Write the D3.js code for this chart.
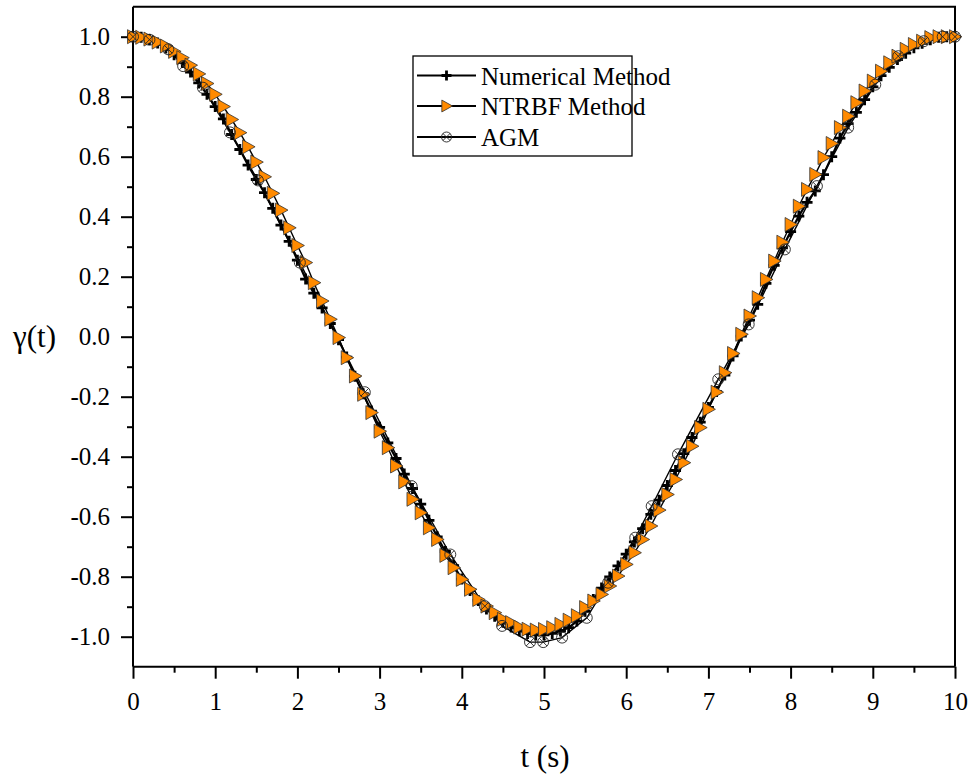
<!DOCTYPE html>
<html>
<head>
<meta charset="utf-8">
<script src="https://cdn.jsdelivr.net/npm/d3@7"></script>
<style>
  html, body { margin: 0; padding: 0; background: #ffffff; }
  svg { display: block; }
  svg text { font-family: "Liberation Serif", "Times New Roman", "DejaVu Serif", serif !important; }
</style>
</head>
<body>
<svg id="chart" width="974" height="776"></svg>
<script>
// ---------- data ----------
const timeValues = [
  0.0, 0.1, 0.2, 0.3, 0.4, 0.5, 0.6, 0.7, 0.8, 0.9,
  1.0, 1.1, 1.2, 1.3, 1.4, 1.5, 1.6, 1.7, 1.8, 1.9,
  2.0, 2.1, 2.2, 2.3, 2.4, 2.5, 2.6, 2.7, 2.8, 2.9,
  3.0, 3.1, 3.2, 3.3, 3.4, 3.5, 3.6, 3.7, 3.8, 3.9,
  4.0, 4.1, 4.2, 4.3, 4.4, 4.5, 4.6, 4.7, 4.8, 4.9,
  5.0, 5.1, 5.2, 5.3, 5.4, 5.5, 5.6, 5.7, 5.8, 5.9,
  6.0, 6.1, 6.2, 6.3, 6.4, 6.5, 6.6, 6.7, 6.8, 6.9,
  7.0, 7.1, 7.2, 7.3, 7.4, 7.5, 7.6, 7.7, 7.8, 7.9,
  8.0, 8.1, 8.2, 8.3, 8.4, 8.5, 8.6, 8.7, 8.8, 8.9,
  9.0, 9.1, 9.2, 9.3, 9.4, 9.5, 9.6, 9.7, 9.8, 9.9, 10.0
];

const numericalValues = [
  1.000, 0.998, 0.991, 0.979, 0.962, 0.940, 0.914, 0.882, 0.846, 0.808,
  0.767, 0.726, 0.674, 0.624, 0.572, 0.524, 0.480, 0.428, 0.372, 0.318,
  0.255, 0.192, 0.145, 0.096, 0.044, -0.010, -0.068, -0.132, -0.190, -0.248,
  -0.302, -0.354, -0.406, -0.458, -0.506, -0.558, -0.612, -0.667, -0.716, -0.763,
  -0.808, -0.846, -0.879, -0.908, -0.932, -0.952, -0.968, -0.980, -0.989, -0.994,
  -0.994, -0.989, -0.981, -0.970, -0.948, -0.915, -0.876, -0.838, -0.801, -0.764,
  -0.725, -0.684, -0.640, -0.592, -0.545, -0.496, -0.446, -0.390, -0.336, -0.285,
  -0.236, -0.183, -0.128, -0.064, 0.002, 0.055, 0.108, 0.178, 0.238, 0.296,
  0.350, 0.402, 0.448, 0.486, 0.540, 0.600, 0.662, 0.710, 0.748, 0.790,
  0.833, 0.870, 0.898, 0.924, 0.945, 0.963, 0.978, 0.990, 0.998, 1.000, 1.000
];

const ntrbfValues = [
  1.000, 0.998, 0.992, 0.982, 0.969, 0.951, 0.930, 0.905, 0.876, 0.844,
  0.808, 0.767, 0.724, 0.680, 0.633, 0.582, 0.533, 0.478, 0.422, 0.363,
  0.304, 0.247, 0.180, 0.119, 0.058, -0.003, -0.070, -0.131, -0.192, -0.253,
  -0.315, -0.370, -0.431, -0.484, -0.542, -0.587, -0.637, -0.676, -0.729, -0.770,
  -0.809, -0.842, -0.876, -0.898, -0.920, -0.942, -0.953, -0.968, -0.975, -0.978,
  -0.976, -0.970, -0.959, -0.945, -0.930, -0.903, -0.881, -0.859, -0.831, -0.798,
  -0.759, -0.720, -0.676, -0.631, -0.578, -0.526, -0.476, -0.420, -0.365, -0.303,
  -0.242, -0.185, -0.120, -0.056, 0.008, 0.069, 0.130, 0.191, 0.252, 0.315,
  0.374, 0.435, 0.491, 0.541, 0.597, 0.644, 0.697, 0.735, 0.780, 0.819,
  0.852, 0.885, 0.913, 0.935, 0.958, 0.974, 0.985, 0.997, 1.000, 1.000, 1.000
];

const agmTimes = [
  0.00, 0.20, 0.43, 0.61, 0.85, 1.18, 1.52, 2.03, 2.82, 3.39,
  3.86, 4.28, 4.49, 4.83, 4.99, 5.22, 5.52, 5.78, 6.11, 6.31,
  6.63, 7.12, 7.49, 7.93, 8.32, 8.70, 9.03, 9.31, 9.62, 9.85, 10.00
];
const agmValues = [
  1.000, 0.990, 0.958, 0.902, 0.830, 0.681, 0.521, 0.247, -0.185, -0.498,
  -0.726, -0.898, -0.964, -1.018, -1.018, -1.003, -0.937, -0.820, -0.670, -0.565,
  -0.392, -0.142, 0.041, 0.291, 0.502, 0.697, 0.840, 0.935, 0.985, 1.000, 1.000
];

const seriesNames = ["Numerical Method", "NTRBF Method", "AGM"];
const xTickValues = [0, 1, 2, 3, 4, 5, 6, 7, 8, 9, 10];
const xMinorTicks = [0.5, 1.5, 2.5, 3.5, 4.5, 5.5, 6.5, 7.5, 8.5, 9.5];
const yTickValues = [-1.0, -0.8, -0.6, -0.4, -0.2, 0.0, 0.2, 0.4, 0.6, 0.8, 1.0];
const yMinorTicks = [-0.9, -0.7, -0.5, -0.3, -0.1, 0.1, 0.3, 0.5, 0.7, 0.9];
const xTitle = "t (s)";
const yTitle = "γ(t)";

// ---------- layout ----------
(function () {
const svg = d3.select("#chart");
const FONT = "Liberation Serif, Times New Roman, serif";
const pL = 133, pR = 955, pT = 6.7, pB = 666.7;
const orange = "#FF8A00";

svg.append("rect").attr("width", 974).attr("height", 776).attr("fill", "#fff");

const x = d3.scaleLinear().domain([0, 10]).range([pL, pR]);
const y = d3.scaleLinear().domain([-1.1, 1.1]).range([pB, pT]);

// frame (top & right)
svg.append("path")
  .attr("d", `M${pL},${pT}H${pR}V${pB}`)
  .attr("fill", "none").attr("stroke", "#000").attr("stroke-width", 2);

// x axis
const gx = svg.append("g").attr("transform", `translate(0,${pB})`);
gx.call(d3.axisBottom(x).tickValues(xTickValues).tickSize(12).tickSizeOuter(0)
  .tickPadding(14).tickFormat(d3.format("d")));
const gxm = svg.append("g").attr("transform", `translate(0,${pB})`);
gxm.call(d3.axisBottom(x).tickValues(xMinorTicks).tickSize(6).tickSizeOuter(0).tickFormat(""));
gxm.select(".domain").remove();

// y axis
const gy = svg.append("g").attr("transform", `translate(${pL},0)`);
gy.call(d3.axisLeft(y).tickValues(yTickValues).tickSize(12).tickSizeOuter(0)
  .tickPadding(11).tickFormat(d => d.toFixed(1)));
const gym = svg.append("g").attr("transform", `translate(${pL},0)`);
gym.call(d3.axisLeft(y).tickValues(yMinorTicks).tickSize(6).tickSizeOuter(0).tickFormat(""));
gym.select(".domain").remove();

[gx, gxm, gy, gym].forEach(g => {
  g.attr("font-family", FONT);
  g.selectAll("path, line").attr("stroke", "#000").attr("stroke-width", 2);
  g.selectAll("text").style("font-family", FONT).attr("font-size", 25).attr("fill", "#000");
});
gx.select(".domain").attr("d", `M${pL},0H${pR}`);
gy.select(".domain").attr("d", `M0,${pT}V${pB}`);

// axis titles
svg.append("text").attr("x", (pL + pR) / 2 + 1).attr("y", 767)
  .attr("text-anchor", "middle").style("font-family", FONT).attr("font-size", 31)
  .text(xTitle);
svg.append("text").attr("x", 13).attr("y", 347)
  .style("font-family", FONT).attr("font-size", 31)
  .text(yTitle);

// ---------- markers ----------
function drawPlus(g, cx, cy, s) {
  g.append("path").attr("d", `M${cx - s},${cy}H${cx + s}M${cx},${cy - s}V${cy + s}`)
    .attr("stroke", "#000").attr("stroke-width", 2.8).attr("fill", "none");
}
function drawTri(g, cx, cy, k) {
  const p = [[cx - 5.5 * k, cy - 7 * k], [cx - 5.5 * k, cy + 7 * k], [cx + 7 * k, cy]];
  g.append("path").attr("d", "M" + p.map(q => q.join(",")).join("L") + "Z")
    .attr("fill", orange).attr("stroke", "#333").attr("stroke-width", 0.8);
}
function drawOX(g, cx, cy, r) {
  const d = r * 0.72;
  g.append("circle").attr("cx", cx).attr("cy", cy).attr("r", r)
    .attr("fill", "none").attr("stroke", "#222").attr("stroke-width", 0.9);
  g.append("path").attr("d", `M${cx - d},${cy - d}L${cx + d},${cy + d}M${cx - d},${cy + d}L${cx + d},${cy - d}`)
    .attr("stroke", "#222").attr("stroke-width", 0.9);
}

const line = d3.line().x(d => x(d[0])).y(d => y(d[1]));
const numData = timeValues.map((t, i) => [t, numericalValues[i]]);
const ntrData = timeValues.map((t, i) => [t, ntrbfValues[i]]);
const agmData = agmTimes.map((t, i) => [t, agmValues[i]]);

const plot = svg.append("g");
plot.append("path").datum(numData).attr("d", line).attr("fill", "none")
  .attr("stroke", "#000").attr("stroke-width", 2.2);
plot.append("path").datum(ntrData).attr("d", line).attr("fill", "none")
  .attr("stroke", "#000").attr("stroke-width", 1.4);
plot.append("path").datum(agmData).attr("d", line).attr("fill", "none")
  .attr("stroke", "#000").attr("stroke-width", 1.4);

const gNum = plot.append("g");
numData.forEach(d => drawPlus(gNum, x(d[0]), y(d[1]), 5.5));
const gNtr = plot.append("g");
ntrData.forEach(d => drawTri(gNtr, x(d[0]), y(d[1]), 1));
const gAgm = plot.append("g");
agmData.forEach(d => drawOX(gAgm, x(d[0]), y(d[1]), 5.5));

// ---------- legend ----------
const lg = svg.append("g");
lg.append("rect").attr("x", 413).attr("y", 56).attr("width", 219).attr("height", 100)
  .attr("fill", "#fff").attr("stroke", "#000").attr("stroke-width", 1.3);
const rowsY = [75.5, 106, 137];
rowsY.forEach((ry, i) => {
  lg.append("line").attr("x1", 417).attr("x2", 476).attr("y1", ry).attr("y2", ry)
    .attr("stroke", "#000").attr("stroke-width", 2);
  if (i === 0) drawPlus(lg, 446.5, ry, 5);
  if (i === 1) drawTri(lg, 446.5, ry, 0.85);
  if (i === 2) drawOX(lg, 446.5, ry, 5);
  lg.append("text").attr("x", 481).attr("y", ry + 9)
    .style("font-family", FONT).attr("font-size", 25).text(seriesNames[i]);
});
})();
</script>
</body>
</html>
